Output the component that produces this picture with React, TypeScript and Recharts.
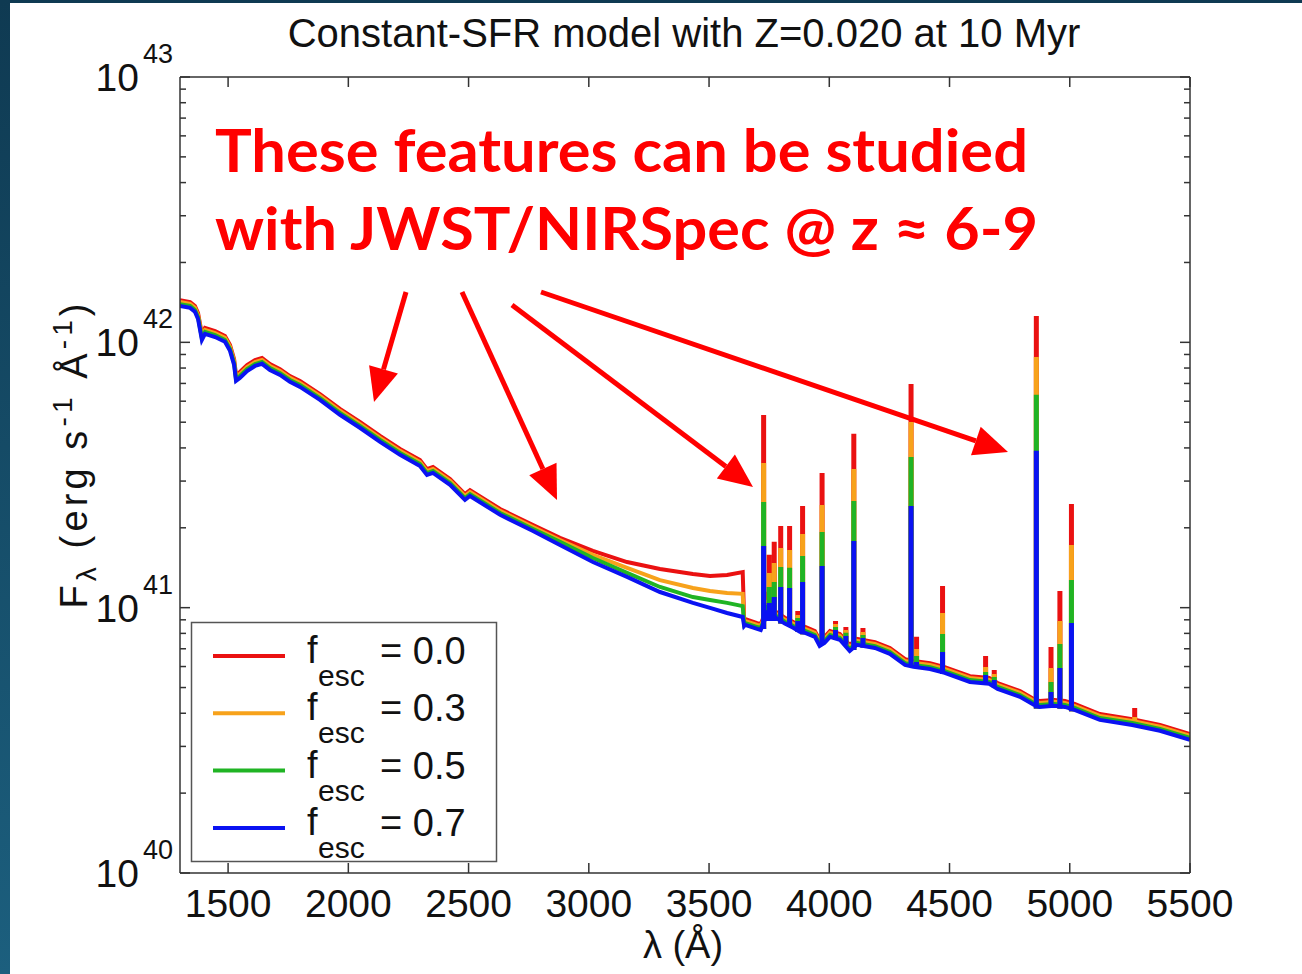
import React from "react";
import { LineChart, Line, XAxis, YAxis } from "recharts";

// wavelength grid of the continuum samples (Å)
const contLam = [
  1300, 1342, 1362, 1375, 1391, 1404, 1446, 1487, 1508, 1525, 1533, 1549, 1579, 1612, 1641, 1674,
  1716, 1757, 1799, 1882, 1965, 2048, 2132, 2215, 2298, 2327, 2352, 2423, 2485, 2506, 2631, 2768,
  2880, 3017, 3159, 3296, 3433, 3504, 3575, 3640,
  3646,
  3650, 3700, 3715, 3740, 3760, 3785, 3815, 3850, 3878, 3900, 3940, 3960, 3980, 4003, 4044, 4085,
  4115, 4190, 4252, 4315, 4350, 4419, 4480, 4585, 4665, 4700, 4793, 4850, 4875, 4935, 4980, 5020,
  5125, 5260, 5375, 5500,
];

// log10 F_lambda (erg s^-1 Å^-1) of the continuum, one list per f_esc
const contRed = [
  42.159, 42.152, 42.137, 42.11, 42.031, 42.054, 42.042, 42.024, 41.99, 41.937, 41.877, 41.888, 41.914, 41.933, 41.941, 41.918,
  41.899, 41.873, 41.854, 41.805, 41.749, 41.7, 41.647, 41.598, 41.556, 41.522, 41.53, 41.485, 41.428, 41.443, 41.372, 41.311,
  41.263, 41.214, 41.172, 41.146, 41.127, 41.119, 41.123, 41.134,
  40.954,
  40.957, 40.942, 40.938, 40.995, 40.995, 40.98, 40.962, 40.946, 40.931, 40.927, 40.912, 40.878, 40.889, 40.912, 40.901, 40.859,
  40.882, 40.87, 40.848, 40.806, 40.799, 40.791, 40.776, 40.742, 40.735, 40.716, 40.686, 40.656, 40.648, 40.652, 40.648, 40.637,
  40.599, 40.58, 40.558, 40.524,
];
const contOrange = [
  42.152, 42.145, 42.13, 42.103, 42.024, 42.047, 42.035, 42.017, 41.983, 41.93, 41.87, 41.881, 41.907, 41.926, 41.934, 41.911,
  41.892, 41.866, 41.847, 41.798, 41.742, 41.693, 41.64, 41.591, 41.549, 41.515, 41.523, 41.478, 41.421, 41.436, 41.365, 41.304,
  41.255, 41.199, 41.15, 41.104, 41.074, 41.063, 41.055, 41.052,
  40.946,
  40.95, 40.935, 40.931, 40.988, 40.988, 40.973, 40.955, 40.939, 40.924, 40.92, 40.905, 40.871, 40.882, 40.905, 40.894, 40.852,
  40.875, 40.863, 40.841, 40.799, 40.792, 40.784, 40.769, 40.735, 40.728, 40.709, 40.679, 40.649, 40.641, 40.645, 40.641, 40.63,
  40.592, 40.573, 40.551, 40.517,
];
const contGreen = [
  42.144, 42.137, 42.122, 42.095, 42.016, 42.039, 42.027, 42.009, 41.975, 41.922, 41.862, 41.873, 41.899, 41.918, 41.926, 41.903,
  41.884, 41.858, 41.839, 41.79, 41.734, 41.685, 41.632, 41.583, 41.541, 41.507, 41.515, 41.47, 41.413, 41.428, 41.357, 41.296,
  41.248, 41.187, 41.131, 41.078, 41.04, 41.029, 41.018, 41.006,
  40.938,
  40.942, 40.927, 40.923, 40.98, 40.98, 40.965, 40.947, 40.931, 40.916, 40.912, 40.897, 40.863, 40.874, 40.897, 40.886, 40.844,
  40.867, 40.855, 40.833, 40.791, 40.784, 40.776, 40.761, 40.727, 40.72, 40.701, 40.671, 40.641, 40.633, 40.637, 40.633, 40.622,
  40.584, 40.565, 40.543, 40.509,
];
const contBlue = [
  42.137, 42.13, 42.115, 42.088, 42.009, 42.032, 42.02, 42.002, 41.968, 41.915, 41.855, 41.866, 41.892, 41.911, 41.919, 41.896,
  41.877, 41.851, 41.832, 41.783, 41.727, 41.678, 41.625, 41.576, 41.534, 41.5, 41.508, 41.463, 41.406, 41.421, 41.35, 41.289,
  41.236, 41.172, 41.116, 41.059, 41.018, 40.999, 40.98, 40.965,
  40.931,
  40.935, 40.92, 40.916, 40.973, 40.973, 40.958, 40.94, 40.924, 40.909, 40.905, 40.89, 40.856, 40.867, 40.89, 40.879, 40.837,
  40.86, 40.848, 40.826, 40.784, 40.777, 40.769, 40.754, 40.72, 40.713, 40.694, 40.664, 40.634, 40.626, 40.63, 40.626, 40.615,
  40.577, 40.558, 40.536, 40.502,
];

// emission lines: wavelength, foot level and peak level per f_esc (log10 F)
const lineLam = [3727, 3740, 3750, 3761, 3771, 3798, 3835, 3869, 3889, 3970, 4026, 4069, 4102, 4140, 4340, 4363, 4471, 4650, 4686, 4861, 4922, 4959, 5007, 5270];
const lineFoot = [40.92, 40.95, 40.95, 40.95, 40.95, 40.94, 40.93, 40.91, 40.9, 40.86, 40.88, 40.86, 40.84, 40.85, 40.78, 40.78, 40.75, 40.71, 40.7, 40.62, 40.63, 40.62, 40.61, 40.55];
const lineRed = [41.726, 41.06, 41.199, 41.1, 41.248, 41.308, 41.308, 40.987, 41.383, 41.508, 40.95, 40.927, 41.655, 40.923, 41.843, 40.89, 41.082, 40.818, 40.765, 42.099, 40.852, 41.063, 41.391, 40.622];
const lineOrange = [41.545, 41.03, 41.131, 41.06, 41.168, 41.225, 41.217, 40.972, 41.278, 41.387, 40.938, 40.916, 41.523, 40.908, 41.7, 40.844, 40.98, 40.776, 40.75, 41.945, 40.773, 40.95, 41.236, 40.588];
const lineGreen = [41.398, 41.01, 41.078, 41.03, 41.097, 41.153, 41.15, 40.961, 41.195, 41.285, 40.927, 40.905, 41.402, 40.897, 41.568, 40.818, 40.901, 40.758, 40.739, 41.802, 40.72, 40.863, 41.104, 40.569];
const lineBlue = [41.232, 40.99, 41.018, 41.0, 41.04, 41.078, 41.074, 40.95, 41.097, 41.157, 40.916, 40.893, 41.251, 40.886, 41.383, 40.795, 40.833, 40.746, 40.727, 41.591, 40.682, 40.773, 40.942, 40.554];

const xTicks = [1500, 2000, 2500, 3000, 3500, 4000, 4500, 5000, 5500];
const yMajor = [40, 41, 42, 43];
const yMinor = [40, 41, 42].flatMap((d) => [2, 3, 4, 5, 6, 7, 8, 9].map((k) => d + Math.log10(k)));

const fescLabels = ["0.0", "0.3", "0.5", "0.7"];
const colors = ["#ea1111", "#f7a21b", "#20b424", "#0a12f2"];

const series = [
  { cont: contRed, peaks: lineRed },
  { cont: contOrange, peaks: lineOrange },
  { cont: contGreen, peaks: lineGreen },
  { cont: contBlue, peaks: lineBlue },
];

const contData = (vals: number[]) => contLam.map((lam, i) => ({ lam, v: vals[i] }));
const spikeData = (peaks: number[]) =>
  lineLam.flatMap((lam, i) => [
    { lam, v: lineFoot[i] },
    { lam, v: peaks[i] },
    { lam, v: null },
  ]);

const font = "'Liberation Sans', Arial, sans-serif";
const frame = "#333";

const BottomTick = ({ x, y, payload }: any) => (
  <g>
    <line x1={x} x2={x} y1={y} y2={y - 10} stroke={frame} strokeWidth={1.5} />
    <text x={x} y={y + 44} textAnchor="middle" fontSize={39} fontFamily={font} fill="#111">
      {payload.value}
    </text>
  </g>
);

const TopTick = ({ x, y }: any) => <line x1={x} x2={x} y1={y} y2={y + 10} stroke={frame} strokeWidth={1.5} />;

const LeftTick = ({ x, y, payload }: any) => {
  const major = Number.isInteger(payload.value);
  return (
    <g>
      <line x1={x} x2={x + (major ? 10 : 6)} y1={y} y2={y} stroke={frame} strokeWidth={1.5} />
      {major && (
        <g fontFamily={font} fill="#111">
          <text x={x - 41} y={y + 14} textAnchor="end" fontSize={39}>10</text>
          <text x={x - 37} y={y - 14} fontSize={27}>{payload.value}</text>
        </g>
      )}
    </g>
  );
};

const RightTick = ({ x, y, payload }: any) => {
  const major = Number.isInteger(payload.value);
  return <line x1={x} x2={x - (major ? 10 : 6)} y1={y} y2={y} stroke={frame} strokeWidth={1.5} />;
};

const arrows = [
  [406, 292, 374, 402],
  [462, 292, 557, 500],
  [512, 305, 753, 487],
  [541, 292, 1008, 452],
];

const Arrow = ({ a }: { a: number[] }) => {
  const [x1, y1, x2, y2] = a;
  const len = Math.hypot(x2 - x1, y2 - y1);
  const ux = (x2 - x1) / len;
  const uy = (y2 - y1) / len;
  const bx = x2 - ux * 34;
  const by = y2 - uy * 34;
  const px = -uy * 15;
  const py = ux * 15;
  return (
    <g fill="#ff0000" stroke="none">
      <line x1={x1} y1={y1} x2={bx} y2={by} stroke="#ff0000" strokeWidth={5} />
      <polygon points={`${x2},${y2} ${bx + px},${by + py} ${bx - px},${by - py}`} />
    </g>
  );
};

const App = () => {
  const lines: React.ReactNode[] = [];
  series.forEach((s, i) => {
    lines.push(
      <Line key={`c${i}`} xAxisId="b" yAxisId="l" data={contData(s.cont)} dataKey="v" type="linear"
        stroke={colors[i]} strokeWidth={4} dot={false} activeDot={false} isAnimationActive={false} />
    );
    lines.push(
      <Line key={`s${i}`} xAxisId="b" yAxisId="l" data={spikeData(s.peaks)} dataKey="v" type="linear"
        stroke={colors[i]} strokeWidth={5} dot={false} activeDot={false} connectNulls={false} isAnimationActive={false} />
    );
  });

  return (
    <div style={{ position: "absolute", left: 0, top: 0, width: 1302, height: 974, overflow: "hidden", background: "linear-gradient(#0f3a52, #1c5f7e)" }}>
      <div style={{ position: "absolute", left: 10, top: 3, width: 1292, height: 971, background: "#fff" }} />
      <div style={{ position: "absolute", left: 0, top: 0 }}>
        <LineChart width={1302} height={974} margin={{ top: 67, right: 102, bottom: 41, left: 90 }}>
          <XAxis xAxisId="b" dataKey="lam" type="number" domain={[1300, 5500]} ticks={xTicks} interval={0}
            tickSize={0} tickMargin={0} tickLine={false} height={60} allowDataOverflow
            axisLine={{ stroke: frame, strokeWidth: 1.5 }} tick={BottomTick} />
          <XAxis xAxisId="t" orientation="top" dataKey="lam" type="number" domain={[1300, 5500]} ticks={xTicks} interval={0}
            tickSize={0} tickMargin={0} tickLine={false} height={10} allowDataOverflow
            axisLine={{ stroke: frame, strokeWidth: 1.5 }} tick={TopTick} />
          <YAxis yAxisId="l" type="number" domain={[40, 43]} ticks={[...yMajor, ...yMinor]} interval={0}
            tickSize={0} tickMargin={0} tickLine={false} width={90} allowDataOverflow
            axisLine={{ stroke: frame, strokeWidth: 1.5 }} tick={LeftTick} />
          <YAxis yAxisId="r" orientation="right" type="number" domain={[40, 43]} ticks={[...yMajor, ...yMinor]} interval={0}
            tickSize={0} tickMargin={0} tickLine={false} width={10} allowDataOverflow
            axisLine={{ stroke: frame, strokeWidth: 1.5 }} tick={RightTick} />
          {lines}
        </LineChart>
      </div>
      <svg width={1302} height={974} style={{ position: "absolute", left: 0, top: 0, pointerEvents: "none" }}>
        <text x={684} y={47} textAnchor="middle" fontSize={40} fontFamily={font} fill="#111">
          Constant-SFR model with Z=0.020 at 10 Myr
        </text>
        <text x={683} y={958} textAnchor="middle" fontSize={38} fontFamily={font} fill="#111">λ (Å)</text>
        <text transform="rotate(-90)" x={-456} y={87} textAnchor="middle" fontSize={38} fontFamily={font} fill="#111"
          textLength={305} lengthAdjust="spacing">
          F<tspan fontSize={28} dy={9}>λ</tspan>
          <tspan dy={-9}> (erg s</tspan>
          <tspan fontSize={28} dy={-15}>-1</tspan>
          <tspan dy={15}> Å</tspan>
          <tspan fontSize={28} dy={-15}>-1</tspan>
          <tspan dy={15}>)</tspan>
        </text>

        <g fontFamily="Lato, 'Open Sans', sans-serif" fontWeight={700} fill="#ff0000" fontSize={59}>
          <text x={215} y={172} textLength={813} lengthAdjust="spacingAndGlyphs">These features can be studied</text>
          <text x={215} y={250} textLength={823} lengthAdjust="spacingAndGlyphs">with JWST/NIRSpec @ z ≈ 6-9</text>
        </g>
        {arrows.map((a, i) => (
          <Arrow key={i} a={a} />
        ))}

        <rect x={191.5} y={622.5} width={305} height={239} fill="#fff" stroke="#555" strokeWidth={1.5} />
        {fescLabels.map((lab, i) => {
          const y = 656 + i * 57.3;
          return (
            <g key={lab} fontFamily={font} fill="#111">
              <line x1={213} x2={285} y1={y} y2={y} stroke={colors[i]} strokeWidth={4} />
              <text x={307} y={y + 7} fontSize={38}>f</text>
              <text x={318} y={y + 30} fontSize={30}>esc</text>
              <text x={380} y={y + 8} fontSize={38}>= {lab}</text>
            </g>
          );
        })}
      </svg>
    </div>
  );
};

export default App;
